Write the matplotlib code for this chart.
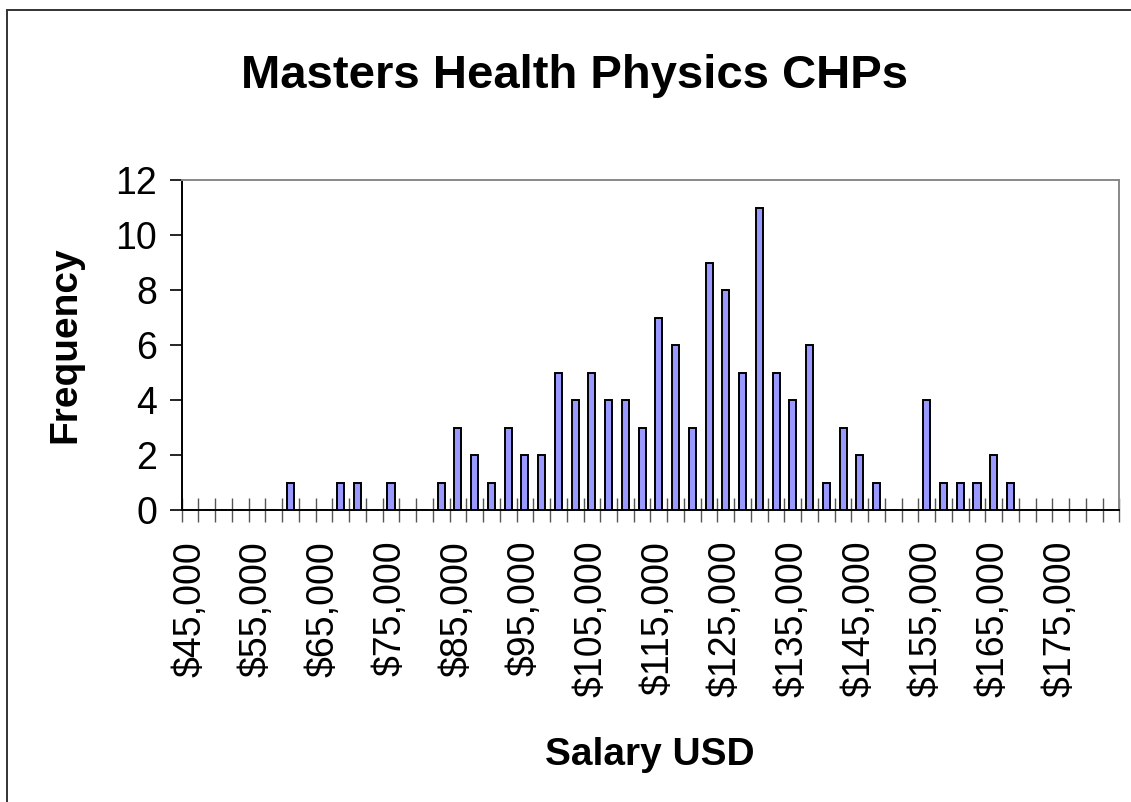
import matplotlib

matplotlib.use("Agg")

import matplotlib.pyplot as plt
from matplotlib.patches import Rectangle
import numpy as np

plt.rcParams["font.family"] = ["Liberation Sans", "DejaVu Sans"]

# Salary bins, $2,500 wide, starting at $45,000 (56 categories).
BIN_START = 45_000
BIN_STEP = 2_500
N_BINS = 56

# Frequency per bin.
FREQUENCY = [
    0, 0, 0, 0, 0, 0, 1, 0, 0, 1,
    1, 0, 1, 0, 0, 1, 3, 2, 1, 3,
    2, 2, 5, 4, 5, 4, 4, 3, 7, 6,
    3, 9, 8, 5, 11, 5, 4, 6, 1, 3,
    2, 1, 0, 0, 4, 1, 1, 1, 2, 1,
    0, 0, 0, 0, 0, 0,
]

TITLE = "Masters Health Physics CHPs"
X_LABEL = "Salary USD"
Y_LABEL = "Frequency"
Y_TICKS = [0, 2, 4, 6, 8, 10, 12]

W, H = 1131, 802


def main():
    bins = [BIN_START + i * BIN_STEP for i in range(N_BINS)]
    x = np.arange(N_BINS)

    fig = plt.figure(figsize=(W / 100, H / 100), dpi=100)
    ax = fig.add_axes([181.7 / W, 1 - 510.3 / H, (1119.3 - 181.7) / W, (510.3 - 180.3) / H])

    ax.bar(x, FREQUENCY, width=0.42, color="#9999FF", edgecolor="black", linewidth=1.4, zorder=3)

    ax.set_xlim(-0.5, N_BINS - 0.5)
    ax.set_ylim(0, 12)

    # labels every $10,000 (every 4th bin), no tick mark under the label
    label_idx = [i for i in range(N_BINS) if (bins[i] - BIN_START) % 10_000 == 0]
    ax.set_xticks(label_idx)
    ax.set_xticklabels([f"${bins[i]:,}" for i in label_idx], rotation=90, fontsize=27)
    ax.tick_params(axis="x", which="major", length=0, pad=22)
    # category boundary ticks crossing the axis
    ax.set_xticks(np.arange(N_BINS + 1) - 0.5, minor=True)
    ax.tick_params(axis="x", which="minor", direction="inout", length=17, width=1.0, color="#555555")

    ax.set_yticks(Y_TICKS)
    ax.tick_params(axis="y", direction="out", length=8.6, width=1.2, labelsize=27, pad=9)

    for side in ("left", "bottom"):
        ax.spines[side].set_color("black")
        ax.spines[side].set_linewidth(1.4)
    for side in ("top", "right"):
        ax.spines[side].set_color("#888888")
        ax.spines[side].set_linewidth(1.4)

    fig.text(575 / W, 1 - 76 / H, TITLE, fontsize=34, fontweight="bold", ha="center", va="center")
    fig.text(650 / W, 1 - 755 / H, X_LABEL, fontsize=28, fontweight="bold", ha="center", va="center")
    fig.text(65 / W, 1 - 345 / H, Y_LABEL, fontsize=28, fontweight="bold", ha="center", va="center",
             rotation=90)

    # chart area border (cut off at right and bottom in the original)
    fig.patches.append(Rectangle((7.3 / W, -0.1), 1.2, 1 - 10.3 / H + 0.1, transform=fig.transFigure,
                                 fill=False, edgecolor="#333333", linewidth=1.4))

    fig.savefig("out.png", dpi=100)
    plt.close(fig)


if __name__ == "__main__":
    main()
